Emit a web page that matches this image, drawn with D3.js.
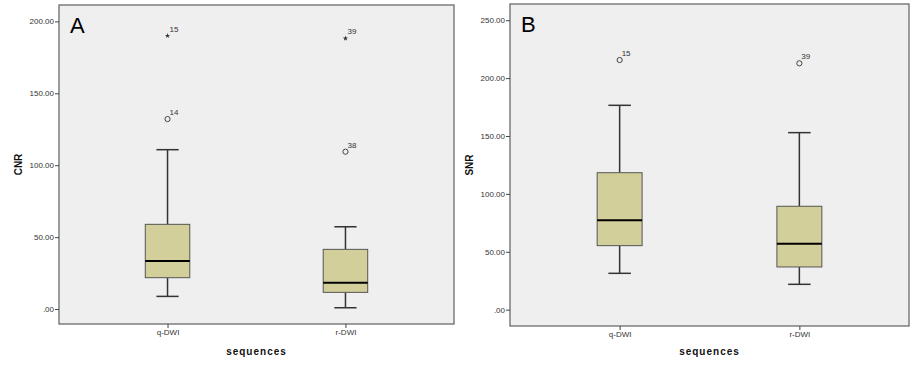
<meta charset="utf-8">
<html>

<head>
    <script src="https://d3js.org/d3.v7.min.js"></script>
    <style>
        body { margin: 0; background: #fff; }
        svg { font-family: Arial, "Liberation Sans", sans-serif; }
    </style>
</head>

<body>
    <div id="chart"></div>

    <script>
        // categories on the x axis
        const sequences = ["q-DWI", "r-DWI"];

        // panel A : CNR
        const cnrLow = [8.8, 0.9];
        const cnrQ1 = [21.8, 11.6];
        const cnrMedian = [33.4, 18.3];
        const cnrQ3 = [58.9, 41.5];
        const cnrHigh = [110.8, 57.2];
        const cnrOutliers = [
            { seq: "q-DWI", value: 132.1, label: "14", extreme: false },
            { seq: "q-DWI", value: 190.0, label: "15", extreme: true },
            { seq: "r-DWI", value: 109.4, label: "38", extreme: false },
            { seq: "r-DWI", value: 188.2, label: "39", extreme: true }
        ];
        const cnrTicks = [0, 50, 100, 150, 200];

        // panel B : SNR
        const snrLow = [31.4, 21.9];
        const snrQ1 = [55.3, 36.9];
        const snrMedian = [77.2, 57.0];
        const snrQ3 = [118.3, 89.3];
        const snrHigh = [176.5, 152.9];
        const snrOutliers = [
            { seq: "q-DWI", value: 215.6, label: "15", extreme: false },
            { seq: "r-DWI", value: 212.8, label: "39", extreme: false }
        ];
        const snrTicks = [0, 50, 100, 150, 200, 250];

        const svg = d3.select("#chart").append("svg")
            .attr("width", 914)
            .attr("height", 372);

        // SPSS style labels: 50.00 and .00
        function fmt(v) {
            const s = d3.format(".2f")(v);
            return v === 0 ? ".00" : s;
        }

        function drawPanel(opt) {
            const g = svg.append("g");

            const x = d3.scalePoint().domain(sequences).range([opt.left, opt.right]).padding(0.61);
            const y = d3.scaleLinear().domain(opt.domain).range([opt.bottom, opt.top]);
            const boxW = x.step() * 0.25;

            // plot area
            g.append("rect")
                .attr("x", opt.left).attr("y", opt.top)
                .attr("width", opt.right - opt.left).attr("height", opt.bottom - opt.top)
                .attr("fill", "#efefef")
                .attr("stroke", "#6a6a6a")
                .attr("stroke-width", 1.3);

            // y axis
            const yAxis = g.append("g")
                .attr("transform", `translate(${opt.left},0)`)
                .call(d3.axisLeft(y).tickValues(opt.ticks).tickFormat(fmt).tickSize(4).tickPadding(1));
            yAxis.select(".domain").remove();
            yAxis.selectAll("line").attr("stroke", "#444");
            yAxis.selectAll("text").attr("fill", "#333").style("font-size", "8px");

            // x axis
            const xAxis = g.append("g")
                .attr("transform", `translate(0,${opt.bottom})`)
                .call(d3.axisBottom(x).tickSize(4).tickPadding(1));
            xAxis.select(".domain").remove();
            xAxis.selectAll("line").attr("stroke", "#444");
            xAxis.selectAll("text").attr("fill", "#333").style("font-size", "8px");

            // axis titles
            g.append("text")
                .attr("transform", `translate(${opt.left - 37},${(opt.top + opt.bottom) / 2}) rotate(-90)`)
                .attr("text-anchor", "middle")
                .style("font-size", "10px")
                .style("font-weight", "bold")
                .attr("fill", "#111")
                .text(opt.yTitle);

            g.append("text")
                .attr("x", (opt.left + opt.right) / 2)
                .attr("y", 355)
                .attr("text-anchor", "middle")
                .style("font-size", "10px")
                .style("font-weight", "bold")
                .style("letter-spacing", "1px")
                .attr("fill", "#111")
                .text("sequences");

            // panel letter
            g.append("text")
                .attr("x", opt.left + 11)
                .attr("y", opt.top + 28)
                .style("font-size", "22px")
                .attr("fill", "#000")
                .text(opt.letter);

            const boxes = g.selectAll(".box").data(sequences).enter().append("g");

            // whisker stems
            boxes.append("line")
                .attr("x1", d => x(d)).attr("x2", d => x(d))
                .attr("y1", (d, i) => y(opt.low[i])).attr("y2", (d, i) => y(opt.q1[i]))
                .attr("stroke", "#333").attr("stroke-width", 1.5);
            boxes.append("line")
                .attr("x1", d => x(d)).attr("x2", d => x(d))
                .attr("y1", (d, i) => y(opt.high[i])).attr("y2", (d, i) => y(opt.q3[i]))
                .attr("stroke", "#333").attr("stroke-width", 1.5);

            // whisker caps
            [opt.low, opt.high].forEach(arr => {
                boxes.append("line")
                    .attr("x1", d => x(d) - boxW / 4).attr("x2", d => x(d) + boxW / 4)
                    .attr("y1", (d, i) => y(arr[i])).attr("y2", (d, i) => y(arr[i]))
                    .attr("stroke", "#333").attr("stroke-width", 1.5);
            });

            // boxes
            boxes.append("rect")
                .attr("x", d => x(d) - boxW / 2)
                .attr("width", boxW)
                .attr("y", (d, i) => y(opt.q3[i]))
                .attr("height", (d, i) => y(opt.q1[i]) - y(opt.q3[i]))
                .attr("fill", "#d3cf9b")
                .attr("stroke", "#555")
                .attr("stroke-width", 1);

            // medians
            boxes.append("line")
                .attr("x1", d => x(d) - boxW / 2).attr("x2", d => x(d) + boxW / 2)
                .attr("y1", (d, i) => y(opt.median[i])).attr("y2", (d, i) => y(opt.median[i]))
                .attr("stroke", "#000").attr("stroke-width", 2);

            // outliers: circles and stars for extremes
            const pts = g.selectAll(".out").data(opt.outliers).enter().append("g")
                .attr("transform", d => `translate(${x(d.seq)},${y(d.value)})`);

            pts.filter(d => !d.extreme).append("circle")
                .attr("r", 2.6)
                .attr("fill", "none")
                .attr("stroke", "#444")
                .attr("stroke-width", 1);

            pts.filter(d => d.extreme).append("path")
                .attr("d", d3.symbol(d3.symbolStar, 9))
                .attr("fill", "#333");

            pts.append("text")
                .attr("x", 2)
                .attr("y", -4)
                .style("font-size", "8px")
                .attr("fill", "#333")
                .text(d => d.label);
        }

        drawPanel({
            letter: "A", yTitle: "CNR",
            left: 59, right: 454, top: 5, bottom: 324,
            domain: [-10.4, 211.4], ticks: cnrTicks,
            low: cnrLow, q1: cnrQ1, median: cnrMedian, q3: cnrQ3, high: cnrHigh,
            outliers: cnrOutliers
        });

        drawPanel({
            letter: "B", yTitle: "SNR",
            left: 510, right: 909, top: 4, bottom: 326,
            domain: [-14.1, 264], ticks: snrTicks,
            low: snrLow, q1: snrQ1, median: snrMedian, q3: snrQ3, high: snrHigh,
            outliers: snrOutliers
        });
    </script>
</body>

</html>
